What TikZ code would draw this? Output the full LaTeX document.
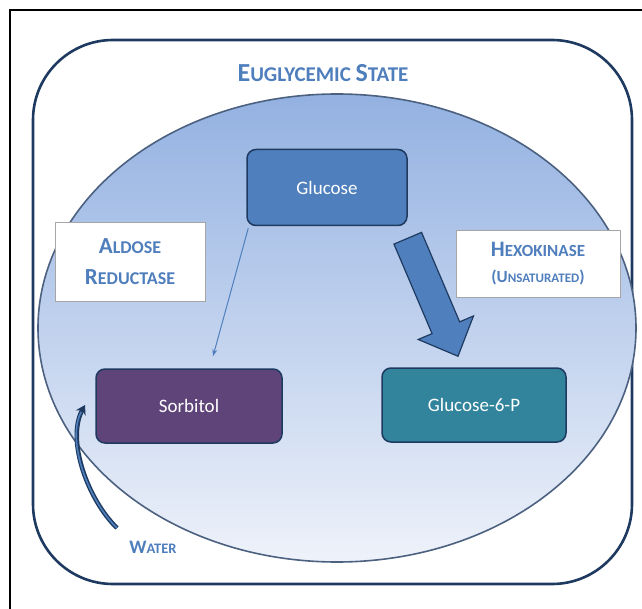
\documentclass[tikz,border=0pt]{standalone}
\usepackage{fontspec}
\setmainfont{Carlito}
\usetikzlibrary{arrows.meta,calc,positioning}

\definecolor{navy}{HTML}{1F3A60}
\definecolor{capblue}{HTML}{4F7EBD}
\definecolor{glucfill}{HTML}{4F80BD}
\definecolor{sorbfill}{HTML}{5F447A}
\definecolor{gsixfill}{HTML}{31849B}
\definecolor{ovaltop}{HTML}{93B1E1}
\definecolor{ovalbot}{HTML}{EEF2FA}

% large first letter, smaller rest
\newcommand{\scword}[4]{{\fontsize{#1}{#1}\selectfont #3}{\fontsize{#2}{#2}\selectfont #4}}

\tikzset{
  molecule/.style={draw=navy, line width=1.5pt, rounded corners=9pt, text=white,
    font=\fontsize{19}{22}\selectfont, inner sep=0pt},
  enzyme/.style={draw=gray!70, line width=0.8pt, fill=white, text=capblue,
    align=center, inner sep=0pt},
}

\begin{document}
\begin{tikzpicture}[x=1pt,y=-1pt]
    \useasboundingbox (0,0) rectangle (642,609);
    \draw[black, line width=1.2pt] (10,609) -- (10,10) -- (642,10);
    \draw[navy, line width=2.6pt, rounded corners=80pt] (33,40) rectangle (632,584);
    \draw[draw=navy!80, line width=1.6pt, top color=ovaltop, bottom color=ovalbot]
      (337,328) ellipse [x radius=299, y radius=234];

    \node[text=capblue, font=\fontsize{21}{21}\selectfont\bfseries] (state) at (323,73)
      {\scword{26}{21}{E}{UGLYCEMIC} \scword{26}{21}{S}{TATE}};

    \node[molecule, fill=glucfill, minimum width=160pt, minimum height=76pt] (glucose)
      at (327,187.5) {Glucose};
    \node[molecule, fill=sorbfill, minimum width=186pt, minimum height=74pt] (sorbitol)
      at (189,406) {Sorbitol};
    \node[molecule, fill=gsixfill, minimum width=184pt, minimum height=74pt] (gsix)
      at (474,405) {Glucose-6-P};

    \node[enzyme, minimum width=150pt, minimum height=79pt,
      font=\fontsize{18}{31}\selectfont\bfseries] (aldose) at (130,262)
      {\scword{23}{18}{A}{LDOSE}\\\scword{23}{18}{R}{EDUCTASE}};
    \node[enzyme, minimum width=164pt, minimum height=67pt,
      font=\fontsize{17}{26}\selectfont\bfseries] (hexo) at (538,263.5)
      {\scword{22}{17}{H}{EXOKINASE}\\\scword{17}{13}{(U}{NSATURATED}\scword{17}{13}{)}{}};

    % thin path to sorbitol
    \draw[glucfill, line width=1pt, -{Stealth[length=7pt,width=5pt]}]
      ($(glucose.south west)+(2,2)$) -- ($(sorbitol.north)+(24,-12)$);

    % block arrow to glucose-6-P
    \coordinate (hxtail) at ($(glucose.south east)+(0,12)$);
    \coordinate (hxtip) at ($(gsix.north)+(-16,-11)$);
    \coordinate (hxbase) at ($(hxtip)!31pt!(hxtail)$);
    \draw[navy, line width=1.2pt, fill=glucfill, line join=miter]
      ($(hxtail)!15pt!90:(hxtip)$) -- ($(hxbase)!15pt!90:(hxtip)$)
      -- ($(hxbase)!30pt!90:(hxtip)$) -- (hxtip)
      -- ($(hxbase)!30pt!-90:(hxtip)$) -- ($(hxbase)!15pt!-90:(hxtip)$)
      -- ($(hxtail)!15pt!-90:(hxtip)$) -- cycle;

    \node[text=capblue, font=\fontsize{14.5}{14.5}\selectfont\bfseries] (water) at (153,547)
      {\scword{19}{14.5}{W}{ATER}};
    \coordinate (wtail) at (117,528);
    \coordinate (whead) at (85,405);
    \draw[navy, line width=4.5pt, -{Stealth[length=9pt,width=11pt]}]
      (wtail) .. controls (88,500) and (66,440) .. (whead);
    \draw[glucfill, line width=1.6pt, shorten >=8pt]
      (wtail) .. controls (88,500) and (66,440) .. (whead);
  \end{tikzpicture}
\end{document}
